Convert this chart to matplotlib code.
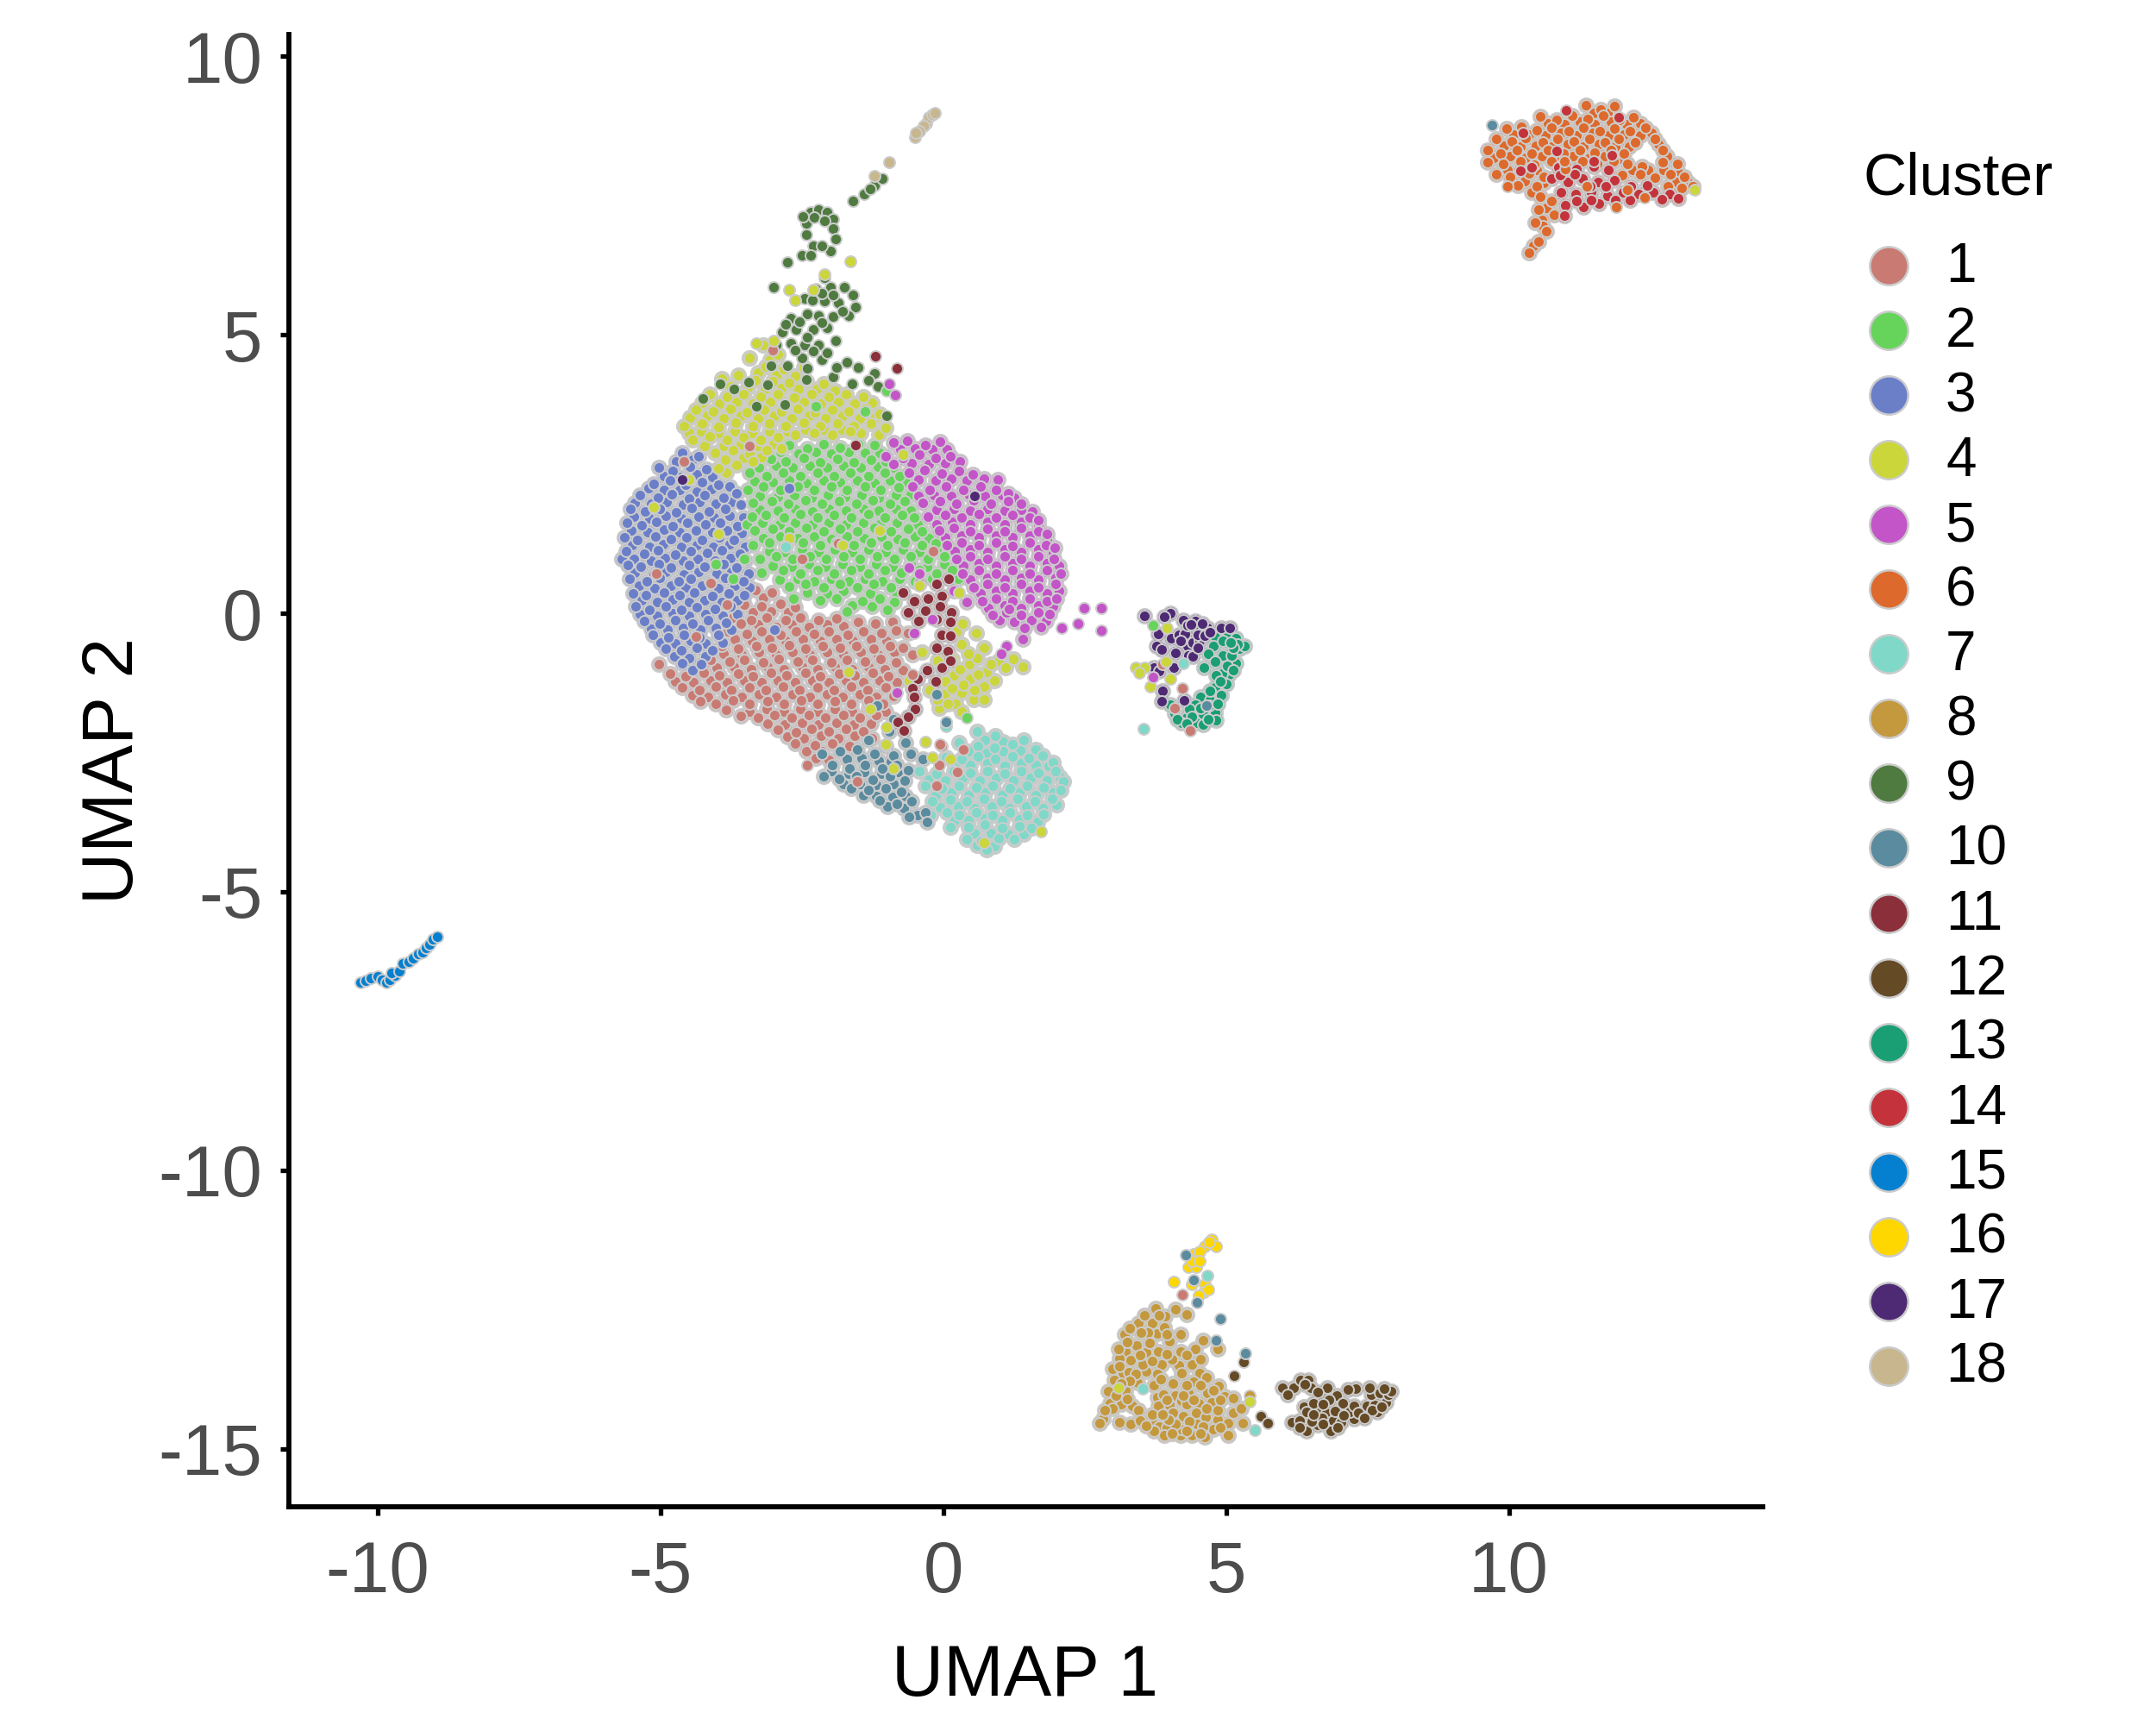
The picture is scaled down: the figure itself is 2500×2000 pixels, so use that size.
import matplotlib
matplotlib.use("Agg")
import matplotlib.pyplot as plt
from matplotlib.lines import Line2D

plt.rcParams['font.family'] = ['Liberation Sans', 'DejaVu Sans']

cluster_names = [str(i) for i in range(1, 19)]
cluster_colors = ['#C97B73', '#66D45A', '#6B7FC9', '#CBD63A', '#C355C8', '#DD6A2C', '#7FD8C8', '#C4983C', '#4F7A40',
                  '#5B8B9E', '#8B2F3A', '#654A26', '#1A9E74', '#C4333B', '#0580D0', '#FFD700', '#4E2A74', '#C8B78E']

core_3 = [(-4.62,2.88),(-4.33,2.82),(-5.03,2.62),(-4.78,2.55),(-4.48,2.64),(-4.19,2.58),(-5.12,2.33),(-4.83,2.38),(-4.56,2.31),(-4.27,2.36),(-3.98,2.3),
(-5.36,2.12),(-5.04,2.07),(-4.8,2.14),(-4.49,2.06),(-4.22,2.12),(-3.88,2.08),(-3.66,2.15),(-5.53,1.88),(-5.27,1.82),(-5.02,1.87),(-4.73,1.81),(-4.45,1.89),(-4.14,1.83),(-3.86,1.88),
(-5.6,1.62),(-5.33,1.58),(-5.07,1.64),(-4.78,1.57),(-4.52,1.63),(-4.2,1.59),(-3.94,1.62),(-3.64,1.57),(-5.64,1.36),(-5.41,1.31),(-5.09,1.38),(-4.82,1.33),(-4.54,1.37),(-4.26,1.31),(-3.96,1.36),(-3.7,1.32),
(-5.61,1.12),(-5.28,1.07),(-5.05,1.13),(-4.74,1.06),(-4.47,1.12),(-4.18,1.08),(-3.91,1.13),(-3.6,1.07),(-5.58,.87),(-5.35,.83),(-5.03,.88),(-4.81,.82),(-4.49,.87),(-4.22,.83),(-3.88,.88),(-3.66,.82),
(-5.54,.62),(-5.24,.57),(-5.01,.63),(-4.68,.58),(-4.46,.62),(-4.13,.57),(-3.86,.63),(-3.54,.58),(-5.49,.36),(-5.26,.32),(-4.93,.37),(-4.66,.33),(-4.41,.38),(-4.08,.31),(-3.79,.36),(-3.52,.32),
(-5.44,.12),(-5.19,.07),(-4.91,.13),(-4.63,.07),(-4.36,.11),(-4.04,.08),(-3.76,.13),(-5.28,-.14),(-5.02,-.18),(-4.74,-.12),(-4.44,-.18),(-4.16,-.13),(-3.84,-.17),
(-5.13,-.38),(-4.86,-.43),(-4.58,-.38),(-4.31,-.43),(-3.98,-.38),(-4.91,-.63),(-4.63,-.67),(-4.36,-.62),(-4.08,-.67),(-4.62,-.89),(-4.28,-.92)]
fill_3 = [(-4.72,2.73),(-4.44,2.76),(-4.93,2.47),(-4.66,2.44),(-4.36,2.49),(-4.09,2.44),(-5.21,2.24),(-4.94,2.21),(-4.66,2.22),(-4.36,2.19),(-4.1,2.23),(-3.78,2.27),(-5.46,1.99),(-5.16,1.96),(-4.89,2.0),(-4.6,1.95),(-4.31,2.0),(-4.02,1.96),(-3.74,2.0),
(-5.47,1.73),(-5.19,1.7),(-4.91,1.75),(-4.63,1.7),(-4.33,1.74),(-4.06,1.72),(-3.78,1.75),(-3.53,1.72),(-5.52,1.48),(-5.22,1.45),(-4.94,1.5),(-4.66,1.46),(-4.38,1.49),(-4.09,1.46),(-3.82,1.49),(-3.56,1.44),(-5.5,1.22),(-5.2,1.19),(-4.95,1.24),(-4.63,1.2),(-4.36,1.23),(-4.07,1.2),(-3.78,1.24),(-3.5,1.2),
(-5.68,.98),(-5.47,.97),(-5.17,.95),(-4.92,.99),(-4.6,.95),(-4.34,.98),(-4.03,.95),(-3.77,.99),(-3.5,.95),(-5.46,.73),(-5.12,.7),(-4.9,.75),(-4.58,.7),(-4.32,.74),(-4.0,.71),(-3.75,.75),(-3.45,.72),(-5.38,.49),(-5.11,.45),(-4.82,.49),(-4.55,.46),(-4.26,.5),(-3.97,.45),(-3.68,.49),(-3.42,.46),
(-5.33,.24),(-5.06,.2),(-4.78,.25),(-4.5,.2),(-4.22,.24),(-3.92,.2),(-3.64,.24),(-5.36,-.02),(-5.06,-.05),(-4.78,0),(-4.5,-.05),(-4.2,-.01),(-3.9,-.04),(-3.64,-.02),(-5.16,-.28),(-4.88,-.3),(-4.6,-.26),(-4.3,-.3),(-4.02,-.26),(-3.74,-.3),(-5.0,-.52),(-4.74,-.54),(-4.46,-.5),(-4.2,-.54),(-3.9,-.52),(-4.76,-.78),(-4.5,-.8),(-4.2,-.78),(-4.44,-1.02)]

core_1 = [(-3.32,.42),(-3.03,.37),(-3.52,.16),(-3.21,.12),(-2.88,.17),(-2.62,.11),(-3.71,-.08),(-3.39,-.13),(-3.12,-.07),(-2.79,-.12),(-2.52,-.08),(-2.21,-.13),(-1.88,-.09),
(-3.81,-.33),(-3.48,-.37),(-3.22,-.32),(-2.88,-.38),(-2.61,-.33),(-2.28,-.37),(-2.02,-.33),(-1.69,-.38),(-1.41,-.32),(-1.09,-.36),(-.83,-.31),
(-3.92,-.58),(-3.62,-.63),(-3.31,-.58),(-3.03,-.62),(-2.72,-.57),(-2.43,-.63),(-2.13,-.58),(-1.82,-.62),(-1.54,-.58),(-1.23,-.63),(-.94,-.58),(-.72,-.62),
(-4.12,-.83),(-3.78,-.87),(-3.52,-.83),(-3.18,-.88),(-2.91,-.82),(-2.58,-.87),(-2.31,-.83),(-1.98,-.88),(-1.71,-.83),(-1.38,-.87),(-1.11,-.82),(-.83,-.88),
(-5.03,-.92),(-4.83,-1.08),(-4.56,-1.13),(-4.24,-1.07),(-3.96,-1.12),(-3.63,-1.08),(-3.36,-1.13),(-3.04,-1.07),(-2.77,-1.12),(-2.44,-1.07),(-2.17,-1.13),(-1.84,-1.08),(-1.57,-1.12),(-1.24,-1.07),(-.97,-1.13),
(-4.61,-1.33),(-4.31,-1.38),(-4.02,-1.32),(-3.74,-1.37),(-3.42,-1.33),(-3.14,-1.38),(-2.83,-1.32),(-2.54,-1.37),(-2.22,-1.33),(-1.94,-1.38),(-1.63,-1.32),(-1.34,-1.37),(-1.02,-1.33),
(-4.29,-1.58),(-4.02,-1.62),(-3.71,-1.57),(-3.43,-1.63),(-3.11,-1.58),(-2.82,-1.62),(-2.51,-1.57),(-2.23,-1.63),(-1.92,-1.58),(-1.63,-1.62),(-1.32,-1.57),(-1.07,-1.62),
(-3.58,-1.84),(-3.27,-1.88),(-2.98,-1.83),(-2.68,-1.87),(-2.37,-1.83),(-2.08,-1.88),(-1.77,-1.83),(-1.48,-1.87),(-1.19,-1.83),(-2.92,-2.09),(-2.61,-2.13),(-2.33,-2.08),(-2.02,-2.12),(-1.72,-2.08),(-1.42,-2.12),
(-2.62,-2.33),(-2.27,-2.37),(-1.97,-2.33),(-1.66,-2.38),(-2.26,-2.6),(-2.03,-2.63),(-1.72,-2.6)]
fill_1 = [(-3.18,.28),(-3.36,.02),(-3.05,.03),(-2.74,.02),(-3.56,-.22),(-3.28,-.2),(-2.96,-.24),(-2.68,-.2),(-2.38,-.24),(-2.06,-.2),(-1.76,-.23),(-1.5,-.16),(-1.2,-.18),(-.9,-.16),(-3.68,-.47),(-3.38,-.5),(-3.08,-.46),(-2.78,-.5),(-2.48,-.46),(-2.18,-.5),(-1.88,-.46),(-1.6,-.5),(-1.28,-.46),(-1.0,-.5),(-.62,-.36),(-3.88,-.72),(-3.56,-.74),(-3.26,-.7),(-2.96,-.74),(-2.66,-.7),(-2.36,-.74),(-2.06,-.7),(-1.76,-.74),(-1.46,-.7),(-1.16,-.74),(-.86,-.7),(-.55,-.74),
(-4.3,-.96),(-4.0,-.98),(-3.7,-.96),(-3.4,-1.0),(-3.1,-.96),(-2.82,-1.0),(-2.5,-.96),(-2.22,-1.0),(-1.92,-.96),(-1.62,-1.0),(-1.32,-.96),(-1.04,-1.0),(-.72,-1.02),(-4.74,-1.22),(-4.42,-1.24),(-4.12,-1.2),(-3.82,-1.24),(-3.52,-1.2),(-3.22,-1.24),(-2.92,-1.2),(-2.62,-1.24),(-2.32,-1.2),(-2.02,-1.24),(-1.72,-1.2),(-1.42,-1.24),(-1.12,-1.2),(-.82,-1.24),
(-4.44,-1.47),(-4.16,-1.5),(-3.86,-1.46),(-3.56,-1.5),(-3.26,-1.46),(-2.96,-1.5),(-2.66,-1.46),(-2.36,-1.5),(-2.06,-1.46),(-1.78,-1.5),(-1.48,-1.46),(-1.18,-1.5),(-.88,-1.48),(-3.84,-1.74),(-3.42,-1.76),(-3.12,-1.72),(-2.82,-1.76),(-2.52,-1.72),(-2.22,-1.76),(-1.92,-1.72),(-1.62,-1.76),(-1.32,-1.72),(-1.02,-1.76),(-3.1,-1.98),(-2.8,-2.0),(-2.5,-1.96),(-2.2,-2.0),(-1.88,-1.96),(-1.58,-2.0),(-1.28,-1.98),(-2.76,-2.22),(-2.46,-2.24),(-2.16,-2.2),(-1.86,-2.24),(-1.56,-2.2),(-1.26,-2.24),(-2.42,-2.48),(-2.14,-2.48),(-1.82,-2.46),(-1.98,-2.78)]

core_2 = [(-2.73,3.02),(-2.41,2.96),(-2.12,3.03),(-1.83,2.97),(-1.51,3.04),(-1.22,3.02),(-3.05,2.77),(-2.78,2.72),(-2.46,2.78),(-2.18,2.71),(-1.87,2.77),(-1.58,2.71),(-1.27,2.76),(-1.02,2.72),
(-3.43,2.52),(-3.12,2.47),(-2.83,2.53),(-2.53,2.46),(-2.23,2.52),(-1.94,2.47),(-1.64,2.53),(-1.33,2.46),(-1.04,2.52),(-.78,2.46),(-3.46,2.22),(-3.18,2.27),(-2.88,2.21),(-2.58,2.27),(-2.29,2.21),(-1.98,2.27),(-1.7,2.21),(-1.39,2.27),(-1.11,2.21),(-.79,2.26),
(-3.36,1.98),(-3.03,2.02),(-2.74,1.97),(-2.44,2.03),(-2.14,1.97),(-1.84,2.02),(-1.54,1.97),(-1.24,2.03),(-.94,1.97),(-.68,2.01),(-3.38,1.73),(-3.13,1.77),(-2.82,1.72),(-2.53,1.78),(-2.22,1.72),(-1.93,1.77),(-1.63,1.72),(-1.33,1.78),(-1.03,1.72),(-.73,1.77),(-.52,1.72),
(-3.33,1.48),(-3.01,1.52),(-2.72,1.47),(-2.42,1.53),(-2.12,1.47),(-1.83,1.52),(-1.52,1.47),(-1.22,1.53),(-.93,1.47),(-.62,1.52),(-.38,1.47),(-3.36,1.23),(-3.08,1.27),(-2.78,1.22),(-2.48,1.27),(-2.18,1.22),(-1.88,1.27),(-1.58,1.22),(-1.28,1.27),(-.98,1.22),(-.69,1.27),(-.38,1.22),(-.14,1.26),
(-3.24,.98),(-2.96,1.02),(-2.66,.97),(-2.36,1.03),(-2.07,.97),(-1.76,1.02),(-1.47,.97),(-1.17,1.03),(-.87,.97),(-.58,1.02),(-.27,.97),(.02,1.02),(-3.22,.73),(-2.83,.77),(-2.52,.72),(-2.23,.77),(-1.93,.72),(-1.63,.78),(-1.33,.72),(-1.03,.77),(-.74,.73),(-.42,.78),(-.12,.72),(.16,.77),
(-2.72,.48),(-2.43,.52),(-2.12,.47),(-1.82,.53),(-1.52,.47),(-1.23,.52),(-.92,.47),(-2.65,.26),(-2.18,.24),(-1.88,.27),(-1.43,.22),(-1.12,.26),(-1.7,.03),(-.98,.06)]
fill_2 = [(-2.88,2.9),(-2.56,2.87),(-2.26,2.9),(-1.98,2.86),(-1.68,2.9),(-1.38,2.88),(-1.12,2.88),(-3.26,2.62),(-2.96,2.65),(-2.66,2.61),(-2.36,2.65),(-2.06,2.62),(-1.76,2.65),(-1.46,2.61),(-1.16,2.64),(-.88,2.62),(-3.33,2.37),(-3.02,2.35),(-2.72,2.38),(-2.42,2.34),(-2.12,2.38),(-1.82,2.35),(-1.52,2.38),(-1.22,2.34),(-.94,2.38),(-.66,2.35),
(-3.24,2.11),(-2.93,2.09),(-2.63,2.12),(-2.33,2.08),(-2.04,2.12),(-1.74,2.09),(-1.44,2.12),(-1.14,2.08),(-.84,2.12),(-.58,2.14),(-3.24,1.86),(-2.92,1.84),(-2.62,1.87),(-2.32,1.83),(-2.02,1.87),(-1.72,1.84),(-1.42,1.87),(-1.14,1.84),(-.84,1.87),(-.58,1.85),(-3.48,1.6),(-3.2,1.63),(-2.9,1.6),(-2.62,1.63),(-2.32,1.59),(-2.02,1.63),(-1.72,1.6),(-1.42,1.63),(-1.12,1.59),(-.82,1.63),(-.46,1.6),
(-3.18,1.35),(-2.88,1.38),(-2.58,1.35),(-2.28,1.38),(-1.98,1.34),(-1.7,1.38),(-1.4,1.35),(-1.1,1.38),(-.8,1.34),(-.5,1.38),(-.26,1.35),(-3.08,1.12),(-2.8,1.1),(-2.5,1.14),(-2.2,1.1),(-1.92,1.14),(-1.62,1.1),(-1.32,1.14),(-1.02,1.1),(-.72,1.14),(-.42,1.1),(-.12,1.12),(.12,1.04),(-3.02,.86),(-2.68,.84),(-2.38,.88),(-2.08,.84),(-1.78,.88),(-1.48,.84),(-1.18,.88),(-.9,.84),(-.58,.88),(-.28,.84),(.02,.88),(.22,.92),
(-2.9,.6),(-2.58,.62),(-2.28,.58),(-1.98,.62),(-1.68,.58),(-1.38,.62),(-1.08,.58),(-.78,.62),(-.5,.58),(-.2,.62),(.26,.62),(-2.4,.38),(-2.06,.36),(-1.76,.4),(-1.3,.36),(-.82,.34),(-1.62,.14),(-1.26,.12),(-.86,.2)]

core_4 = [(-3.18,4.82),(-2.92,4.65),(-3.42,4.58),(-3.14,4.43),(-2.82,4.38),(-2.47,4.42),(-3.92,4.21),(-3.62,4.27),(-3.32,4.18),(-3.02,4.16),(-2.72,4.14),(-2.42,4.17),(-2.12,4.12),
(-4.13,3.93),(-3.83,3.88),(-3.53,3.94),(-3.23,3.89),(-2.93,3.93),(-2.63,3.87),(-2.33,3.94),(-2.03,3.88),(-1.72,3.93),(-1.42,3.88),(-4.38,3.66),(-4.07,3.62),(-3.77,3.67),(-3.47,3.61),(-3.17,3.66),(-2.87,3.62),(-2.57,3.67),(-2.27,3.61),(-1.97,3.66),(-1.67,3.62),(-1.38,3.67),(-1.13,3.58),
(-4.58,3.36),(-4.27,3.41),(-3.98,3.35),(-3.67,3.42),(-3.37,3.36),(-3.08,3.41),(-2.78,3.36),(-2.47,3.42),(-2.18,3.36),(-1.87,3.41),(-1.58,3.36),(-1.27,3.41),(-1.02,3.33),(-4.43,3.12),(-4.13,3.17),(-3.83,3.11),(-3.53,3.16),(-3.23,3.11),(-2.93,3.16),(-2.62,3.2),(-2.28,3.24),(-1.96,3.21),(-1.64,3.26),
(-4.03,2.88),(-3.72,2.92),(-3.42,2.87),(-3.12,2.93),(-2.86,2.96),(-3.97,2.6),(-3.66,2.66),(-3.36,2.72)]
fill_4 = [(-3.06,4.55),(-3.28,4.32),(-2.96,4.28),(-2.62,4.26),(-3.76,4.08),(-3.46,4.05),(-3.16,4.03),(-2.86,4.04),(-2.56,4.02),(-2.24,4.03),(-1.92,4.0),(-4.26,3.78),(-3.96,3.76),(-3.66,3.8),(-3.36,3.76),(-3.06,3.8),(-2.76,3.76),(-2.46,3.8),(-2.16,3.76),(-1.86,3.8),(-1.56,3.76),(-1.26,3.78),(-4.48,3.52),(-4.18,3.54),(-3.88,3.5),(-3.58,3.54),(-3.28,3.5),(-2.98,3.54),(-2.68,3.5),(-2.38,3.54),(-2.08,3.5),(-1.78,3.54),(-1.48,3.5),(-1.2,3.52),(-4.5,3.24),(-4.28,3.27),(-3.98,3.23),(-3.68,3.27),(-3.38,3.23),(-3.08,3.27),(-2.76,3.26),(-2.44,3.3),(-2.12,3.3),(-1.8,3.3),(-1.46,3.24),(-1.14,3.2),(-4.22,3.0),(-3.88,3.0),(-3.58,3.03),(-3.28,3.0),(-3.0,3.03),(-3.86,2.76),(-3.54,2.78),(-3.22,2.8),(-3.84,2.52)]

core_5 = [(-.88,3.06),(-.63,3.1),(-.32,3.02),(-.06,3.08),(-1.02,2.82),(-.72,2.78),(-.42,2.85),(-.14,2.78),(.12,2.82),(-.61,2.53),(-.33,2.57),(-.02,2.51),(.28,2.56),(.52,2.5),
(-.55,2.27),(-.24,2.22),(.05,2.28),(.36,2.22),(.66,2.27),(.93,2.21),(1.14,2.16),(-.36,1.98),(-.05,2.02),(.24,1.97),(.54,2.03),(.84,1.97),(1.14,2.02),(1.37,1.96),
(-.27,1.73),(.04,1.77),(.33,1.72),(.63,1.78),(.93,1.72),(1.23,1.77),(1.53,1.72),(1.68,1.68),(-.08,1.48),(.18,1.53),(.48,1.47),(.78,1.52),(1.08,1.47),(1.38,1.53),(1.68,1.47),(1.84,1.42),
(.06,1.22),(.33,1.27),(.63,1.22),(.93,1.27),(1.23,1.21),(1.53,1.27),(1.82,1.22),(1.97,1.17),(.24,.97),(.48,1.03),(.78,.97),(1.08,1.02),(1.38,.97),(1.68,1.02),(1.96,.97),(.34,.72),(.63,.77),(.93,.72),(1.23,.78),(1.53,.72),(1.83,.77),(2.08,.72),
(.53,.47),(.78,.52),(1.08,.47),(1.38,.53),(1.68,.47),(1.98,.52),(.69,.22),(.93,.27),(1.23,.21),(1.53,.27),(1.83,.22),(2.0,.26),(.88,-.03),(1.12,.02),(1.38,-.03),(1.68,.02),(1.88,-.02),(1.44,-.27),(1.72,-.24),(1.4,-.46)]
fill_5 = [(-.76,2.94),(-.5,2.96),(-.2,2.94),(.06,2.94),(-.88,2.68),(-.56,2.7),(-.26,2.68),(.04,2.7),(.3,2.72),(-.44,2.4),(-.14,2.38),(.14,2.42),(.42,2.38),(.72,2.42),(.96,2.4),(-.44,2.1),(-.16,2.12),(.14,2.1),(.44,2.14),(.74,2.1),(1.04,2.12),(1.26,2.08),(-.12,1.86),(.18,1.88),(.48,1.84),(.78,1.88),(1.08,1.84),(1.38,1.86),(1.58,1.82),(-.12,1.6),(.16,1.64),(.48,1.6),(.78,1.64),(1.08,1.6),(1.38,1.64),(1.68,1.6),(.04,1.36),(.33,1.4),(.63,1.36),(.93,1.4),(1.23,1.36),(1.53,1.4),(1.83,1.34),(.2,1.12),(.48,1.14),(.78,1.1),(1.08,1.14),(1.38,1.1),(1.68,1.14),(1.94,1.08),
(.36,.86),(.63,.9),(.93,.86),(1.23,.9),(1.53,.86),(1.83,.9),(2.04,.86),(.48,.6),(.78,.64),(1.08,.6),(1.38,.64),(1.68,.6),(1.98,.64),(.66,.36),(.93,.4),(1.23,.35),(1.53,.4),(1.83,.35),(2.04,.4),(.8,.1),(1.08,.14),(1.38,.1),(1.68,.14),(1.94,.12),(1.0,-.12),(1.26,-.15),(1.56,-.12),(1.82,-.14),(.18,.4),(.42,.2)]

core_11 = [(-.71,.38),(-.42,.55),(-.12,.52),(.1,.62),(-.52,.22),(-.27,.27),(-.03,.31),(-.62,.02),(-.32,.05),(-.06,.12),(.14,.02),(-.44,-.14),(-.12,-.1),(.12,-.16),(-.03,-.38),(.12,-.4),(-.12,-.62),(.08,-.68),(-.29,-1.02),(-.02,-.98),(.12,-.85),(-.45,-1.18),(-.14,-1.22),(-.55,-1.35),(-.52,-1.5),(-.5,-1.72),(-.62,-1.85),(-.8,-1.95),(-.7,-2.1)]

core_4b = [(-.38,-.7),(-.1,-.85),(.24,-.32),(.32,-.55),(.16,-.82),(.46,-.92),(.18,-1.12),(.48,-1.18),(.76,-1.05),(.98,-.85),(1.24,-.82),(.72,-1.32),(.33,-1.42),(.02,-1.45),(-.24,-1.38),(.22,-1.62),(.54,-1.55),(.9,-1.2),(.72,-1.55),(.58,-.35),(.72,-.62),(-.08,-1.7),(.04,-1.22),(.32,-1.76),(.3,-1.0),(.6,-.8),(.84,-.92),(1.1,-.98),(.62,-1.1),(.36,-1.28),(.56,-1.38),(.16,-1.34),(-.1,-1.55),(.08,-1.62),(.44,-.72),(.34,-.18),(-.6,-1.2),(1.4,-.96)]

core_10 = [(-1.17,-1.66),(-.88,-1.9),(-.96,-2.12),(-.66,-2.32),(-1.32,-2.28),(-1.02,-2.38),(-2.15,-2.52),(-1.82,-2.48),(-1.52,-2.44),(-1.22,-2.52),(-.88,-2.56),(-.58,-2.52),(-.36,-2.62),(-1.96,-2.72),(-1.66,-2.78),(-1.38,-2.72),(-1.08,-2.78),(-.82,-2.72),(-.62,-2.82),
(-2.12,-2.92),(-1.84,-2.97),(-1.54,-2.93),(-1.24,-2.98),(-.94,-2.92),(-.68,-3.0),(-1.63,-3.14),(-1.33,-3.18),(-1.02,-3.14),(-.74,-3.2),(-1.12,-3.36),(-.82,-3.42),(-.56,-3.37),(-.6,-3.65),(-.32,-3.58),(-.28,-3.74)]
fill_10 = [(-1.7,-2.62),(-1.44,-2.6),(-1.14,-2.64),(-.92,-2.66),(-1.98,-2.84),(-1.68,-2.88),(-1.4,-2.85),(-1.1,-2.88),(-.8,-2.85),(-1.76,-3.06),(-1.48,-3.06),(-1.18,-3.08),(-.88,-3.06),(-1.42,-3.26),(-1.18,-3.28),(-.9,-3.3),(-.66,-3.28),(-.98,-3.46),(-.7,-3.5),(-.45,-3.62)]

core_7 = [(.6,-2.12),(.92,-2.2),(.28,-2.32),(.62,-2.38),(.9,-2.42),(1.22,-2.36),(1.42,-2.28),(.05,-2.58),(.32,-2.62),(.62,-2.57),(.92,-2.62),(1.22,-2.57),(1.52,-2.6),(1.76,-2.55),(1.94,-2.68),
(-.42,-2.84),(-.12,-2.88),(.18,-2.83),(.48,-2.87),(.78,-2.83),(1.08,-2.88),(1.38,-2.83),(1.68,-2.87),(1.98,-2.83),(-.32,-3.1),(-.03,-3.14),(.28,-3.09),(.58,-3.13),(.88,-3.09),(1.18,-3.14),(1.48,-3.09),(1.78,-3.13),(2.12,-3.02),(2.08,-3.18),
(-.2,-3.38),(.12,-3.34),(.42,-3.38),(.72,-3.33),(1.02,-3.38),(1.32,-3.33),(1.62,-3.38),(1.92,-3.33),(-.22,-3.62),(.06,-3.58),(.28,-3.63),(.58,-3.58),(.88,-3.63),(1.18,-3.58),(1.48,-3.63),(1.78,-3.6),
(.12,-3.84),(.44,-3.84),(.74,-3.8),(1.04,-3.85),(1.34,-3.82),(1.56,-3.86),(.42,-4.06),(.68,-4.08),(.98,-4.04),(1.26,-4.06),(.76,-4.24)]
fill_7 = [(.74,-2.28),(1.06,-2.3),(.44,-2.48),(.76,-2.5),(1.06,-2.48),(1.36,-2.46),(1.64,-2.44),(.2,-2.72),(.48,-2.72),(.78,-2.7),(1.08,-2.74),(1.38,-2.7),(1.64,-2.72),(1.86,-2.74),(-.26,-2.98),(.04,-3.0),(.34,-2.96),(.64,-3.0),(.94,-2.96),(1.24,-3.0),(1.54,-2.96),(1.84,-3.0),(2.06,-2.94),(-.14,-3.26),(.14,-3.22),(.44,-3.26),(.74,-3.22),(1.04,-3.26),(1.34,-3.22),(1.64,-3.26),(1.94,-3.22),(-.06,-3.48),(.26,-3.46),(.56,-3.5),(.86,-3.46),(1.16,-3.5),(1.46,-3.46),(1.76,-3.5),(2.0,-3.44),(.2,-3.72),(.44,-3.72),(.74,-3.68),(1.04,-3.72),(1.34,-3.7),(1.66,-3.74),(.56,-3.94),(.84,-3.94),(1.14,-3.96),(1.42,-3.96),(.6,-4.16),(.9,-4.18)]

core_6 = [(11.36,9.12),(11.62,9.04),(11.86,9.1),(10.56,8.92),(10.85,8.86),(11.12,8.94),(11.4,8.88),(11.67,8.93),(11.96,8.86),(12.2,8.9),(9.96,8.7),(10.22,8.74),(10.5,8.67),(10.76,8.72),(11.06,8.66),(11.32,8.72),(11.61,8.66),(11.86,8.71),(12.14,8.66),(12.42,8.72),
(9.78,8.52),(10.06,8.47),(10.3,8.53),(10.6,8.46),(10.86,8.52),(11.15,8.47),(11.42,8.52),(11.7,8.46),(11.95,8.51),(12.24,8.46),(12.58,8.52),(9.62,8.31),(9.86,8.26),(10.15,8.32),(10.4,8.26),(10.7,8.32),(10.96,8.26),(11.25,8.32),(11.52,8.27),(11.8,8.31),(12.04,8.26),(12.72,8.31),
(9.62,8.1),(9.9,8.06),(10.2,8.11),(10.45,8.05),(10.75,8.11),(11.02,8.06),(11.3,8.12),(11.56,8.06),(11.85,8.11),(12.1,8.06),(12.35,8.02),(12.72,8.1),(12.98,8.06),(9.78,7.88),(10.02,7.84),(10.36,7.9),(10.62,7.84),(12.0,7.86),(12.32,7.88),(12.58,7.82),(12.86,7.88),(13.1,7.84),(10.16,7.68),(10.5,7.66),(12.82,7.66),(13.05,7.63),(13.26,7.66),(10.56,7.48),(10.76,7.4),(10.52,7.24),(10.8,7.16),(10.46,7.02),(10.66,6.86),(10.52,6.68),(10.36,6.48)]

core_14 = [(10.88,8.0),(11.2,7.98),(11.5,8.02),(11.76,7.96),(10.76,7.8),(11.04,7.74),(11.3,7.8),(11.58,7.74),(11.86,7.78),(10.92,7.56),(11.18,7.52),(11.46,7.56),(11.74,7.5),(12.02,7.55),(12.3,7.52),(12.56,7.56),(12.84,7.52),(11.0,7.32),(11.32,7.3),(11.6,7.36),(10.98,7.14),(10.9,7.86),(11.16,7.88),(11.44,7.66),(11.72,7.66),(12.16,7.66),(12.44,7.68),(12.7,7.44),(13.0,7.45),(12.14,7.42),(11.88,7.42),(11.46,7.42),(11.2,7.4),(10.4,8.0),(10.2,7.95)]
fill_6 = [(11.5,8.98),(11.74,8.98),(10.7,8.8),(10.98,8.78),(11.26,8.82),(11.52,8.78),(11.8,8.82),(12.08,8.78),(12.32,8.8),(10.08,8.6),(10.36,8.6),(10.64,8.58),(10.92,8.62),(11.2,8.58),(11.48,8.62),(11.76,8.58),(12.04,8.6),(12.32,8.58),(12.52,8.62),(9.92,8.4),(10.2,8.38),(10.48,8.4),(10.76,8.38),(11.04,8.42),(11.32,8.38),(11.6,8.42),(11.88,8.38),(12.12,8.38),(9.74,8.18),(10.02,8.2),(10.3,8.18),(10.58,8.2),(10.86,8.18),(11.14,8.2),(11.42,8.18),(11.7,8.2),(11.98,8.16),(12.8,8.2),(9.98,7.96),(10.22,7.9),(10.5,7.96),(12.18,7.96),(12.46,7.96),(12.74,7.96),(12.98,7.94),(10.28,7.76),(10.62,7.72),(12.96,7.74),(13.18,7.72),(10.4,7.56),(10.66,7.28),(10.58,7.06),(10.6,6.95),(10.44,6.6),(12.64,8.42)]

points_8 = [(3.75,-12.48),(4.11,-12.5),(4.31,-12.58),(3.45,-12.74),(3.7,-12.74),(3.92,-12.62),(3.2,-12.94),(3.78,-12.93),(4.2,-12.94),(4.0,-13.07),(4.6,-13.05),(4.86,-13.2),(4.46,-13.2),(3.22,-13.25),(3.42,-13.15),(3.58,-13.27),(3.8,-13.25),(4.19,-13.25),(3.12,-13.38),(3.32,-13.41),(3.86,-13.48),(4.16,-13.5),(4.39,-13.48),(3.0,-13.56),(3.18,-13.64),(3.58,-13.61),(3.78,-13.66),(4.21,-13.64),(4.54,-13.64),(3.02,-13.77),(3.44,-13.81),(4.06,-13.82),(4.42,-13.79),(4.65,-13.72),(2.92,-13.97),(3.22,-13.95),(4.34,-14.0),(4.67,-13.99),(4.87,-13.87),(3.78,-14.08),(3.89,-14.02),(4.1,-14.04),(4.97,-14.06),(5.12,-14.09),(2.94,-14.18),(3.14,-14.19),(3.35,-14.23),(3.8,-14.23),(4.0,-14.22),(4.21,-14.13),(4.52,-14.18),(4.75,-14.16),(3.0,-14.28),(3.45,-14.31),(4.06,-14.35),(4.47,-14.36),(4.24,-14.41),(4.64,-14.43),(5.12,-14.35),(5.26,-14.28),(2.82,-14.46),(2.76,-14.54),(3.11,-14.52),(3.31,-14.55),(3.48,-14.49),(3.73,-14.55),(3.81,-14.6),(3.95,-14.62),(4.19,-14.75),(4.39,-14.75),(4.62,-14.79),(4.86,-14.48),(5.03,-14.54),(5.03,-14.75),(5.3,-14.54),(4.49,-14.55),(4.77,-14.65),(3.91,-14.75),(4.2,-14.65),(3.28,-13.62),(3.1,-13.2),(3.62,-12.92),(3.52,-13.48),(3.4,-13.65),(3.65,-13.1),(3.9,-12.82),(2.86,-14.3),(4.3,-14.2),(4.6,-14.6),(4.1,-14.55),(3.98,-14.48),(4.35,-14.5),(4.85,-14.3),(4.05,-13.4),
(3.55,-12.6),(3.3,-12.84),(3.5,-12.92),(3.82,-12.6),(3.95,-12.95),(3.25,-13.08),(3.48,-13.32),(3.7,-13.42),(3.95,-13.3),(3.12,-13.52),(3.3,-13.78),(3.15,-13.82),(3.05,-14.05),(3.25,-14.1),(3.72,-13.85),(3.85,-13.75),(4.3,-13.32),(4.55,-13.4),(4.3,-13.85),(4.55,-13.85),(4.78,-13.95),(4.25,-14.05),(3.95,-14.12),(4.42,-14.12),(4.65,-14.28),(4.9,-14.12),(3.7,-14.38),(3.88,-14.38),(4.3,-14.68),(4.05,-14.72),(3.72,-14.68),(4.55,-14.72),(4.9,-14.62),(3.58,-14.58)]
points_12 = [(6.0,-13.9),(6.2,-13.91),(6.09,-14.03),(6.32,-13.77),(6.45,-13.77),(6.5,-13.9),(6.79,-13.91),(6.96,-14.05),(7.06,-14.18),(6.38,-14.24),(6.6,-14.28),(6.78,-14.35),(6.45,-14.44),(6.17,-14.52),(6.43,-14.67),(6.62,-14.57),(6.9,-14.49),(6.85,-14.67),(7.26,-14.46),(7.03,-14.52),(7.44,-14.31),(7.49,-14.23),(7.63,-14.22),(7.82,-14.16),(7.57,-14.02),(7.72,-14.0),(7.87,-14.03),(7.54,-13.9),(7.3,-13.92),(7.16,-13.93),(6.55,-14.18),(6.3,-14.49),(6.7,-14.44),(7.19,-14.34),(7.67,-14.34),(7.92,-13.97),(7.26,-14.23),(6.4,-13.84),(6.62,-13.98),(6.82,-14.12),(6.72,-14.2),(6.42,-14.34),(6.52,-14.5),(6.72,-14.56),(6.92,-14.32),(7.08,-14.4),(7.34,-14.36),(7.58,-14.3),(7.75,-14.25),(7.8,-13.92),(7.45,-14.44),(6.98,-14.62),(6.3,-14.62),(6.55,-14.38)]
points_12b = [(5.31,-13.44),(5.15,-13.69),(5.61,-14.42),(5.73,-14.54)]
points_8b = [(5.42,-14.05)]
points_13 = [(4.8,-.42),(5.04,-.39),(5.23,-.63),(5.33,-.59),(5.18,-.45),(4.77,-.59),(4.68,-.73),(4.95,-.76),(4.8,-.87),(4.61,-.97),(5.18,-.89),(5.1,-.76),(5.05,-1.1),(4.93,-1.08),(4.82,-1.12),(5.0,-1.27),(4.8,-1.33),(4.91,-1.47),(4.66,-1.47),(4.55,-1.5),(4.81,-1.78),(4.59,-1.81),(4.31,-1.87),(4.09,-1.79),(4.47,-1.97),(4.21,-1.97),(4.82,-1.92),(4.59,-2.0),(4.01,-1.64),(4.46,-1.64),(4.72,-1.56),(5.2,-.55),(5.12,-.62),(4.7,-1.65),(4.35,-1.72),(4.95,-.5),(5.08,-.52),(5.02,-.95),(4.9,-1.22),(5.12,-1.02),(4.72,-1.4),(4.85,-1.62),(4.4,-1.86),(4.68,-1.9),(4.14,-1.9),(4.3,-1.98),(4.55,-1.7)]
points_17 = [(3.56,-.04),(4.01,.0),(3.9,-.06),(3.8,-.37),(3.77,-.58),(3.86,-.65),(4.03,-.45),(4.1,-.71),(4.17,-.39),(4.25,-.13),(4.28,-.37),(4.32,-.22),(4.32,-.58),(4.34,-.76),(4.41,-.77),(4.41,-.53),(4.46,-.14),(4.54,-.29),(4.53,-.49),(4.67,-.27),(4.92,-.27),(5.07,-.27),(3.73,-.97),(3.82,-1.03),(4.08,-.98),(3.87,-1.39),(3.86,-1.58),(4.26,-1.56),(4.38,-.2),(4.5,-.38),(4.62,-.4),(4.2,-.5),(4.5,-.62),(4.72,-.34),(4.58,-.18)]
points_9 = [(-2.35,7.2),(-2.2,7.25),(-2.05,7.2),(-1.95,7.08),(-2.42,7.0),(-1.95,6.9),(-2.42,6.8),(-1.9,6.72),(-2.3,6.6),(-2.0,6.5),(-2.5,6.42),(-2.75,6.3),(-3.0,5.85),(-1.4,7.52),(-1.22,7.68),(-1.3,7.62),(-1.08,7.8),(-1.6,7.4),(-2.28,7.1),(-2.48,7.12),(-2.1,7.05),(-2.15,6.6),(-2.35,6.42),
(-2.1,6.02),(-2.0,5.85),(-1.75,5.85),(-1.6,5.72),(-2.25,5.82),(-2.45,5.65),(-2.1,5.6),(-1.85,5.58),(-1.55,5.5),(-1.68,5.35),(-2.7,5.3),(-2.4,5.38),(-2.2,5.35),(-1.95,5.32),(-2.85,5.05),(-2.6,5.1),(-2.3,5.1),(-2.05,5.12),(-1.9,4.9),(-2.95,4.82),(-2.7,4.85),(-2.45,4.82),(-2.2,4.82),(-2.5,4.58),(-2.15,4.55),(-2.75,4.45),(-1.7,4.5),(-1.5,4.42),(-1.22,4.3),(-3.05,4.45),(-3.45,4.15),(-3.7,4.02),(-3.95,4.12),(-4.25,3.85),(-3.1,4.1),(-2.42,4.2),(-1.95,4.25),(-1.62,4.12),(-1.32,4.18),(-1.15,4.08),(-1.0,3.55),(-2.8,3.75),(-3.3,3.72),(-2.32,5.62),(-2.15,5.74),(-1.95,5.72),(-1.78,5.42),(-2.55,5.24),(-2.15,5.22),(-2.78,5.18),(-2.4,4.95),(-2.62,4.72),(-2.3,4.7),(-2.05,4.68),(-2.4,4.4),(-1.88,4.42)]
points_18 = [(-.3,8.8),(-.25,8.9),(-.2,8.95),(-.15,8.98),(-.35,8.75),(-.42,8.65),(-.5,8.55),(-.48,8.62),(-.95,8.1),(-1.22,7.85)]
points_15 = [(-10.3,-6.62),(-10.22,-6.6),(-10.12,-6.55),(-10.0,-6.52),(-9.92,-6.58),(-9.85,-6.62),(-9.78,-6.58),(-9.7,-6.5),(-9.75,-6.45),(-9.62,-6.42),(-9.55,-6.28),(-9.45,-6.25),(-9.38,-6.2),(-9.28,-6.12),(-9.2,-6.08),(-9.15,-6.0),(-9.08,-5.95),(-9.02,-5.85),(-8.95,-5.8)]
points_16 = [(4.75,-11.24),(4.62,-11.37),(4.82,-11.37),(4.42,-11.51),(4.54,-11.45),(4.33,-11.73),(4.47,-11.73),(4.4,-11.62),(4.54,-11.63),(4.07,-12.0),(4.39,-12.04),(4.62,-12.04),(4.61,-12.19),(4.52,-12.25),(4.69,-12.14),(4.7,-11.28)]

stray_1 = [(3.87,-.91),(4.23,-1.35),(4.09,-1.71),(4.37,-2.1),(4.23,-12.23),(-3.42,3.0),(-4.58,2.72),(-3.02,4.72),(-5.08,.72),(-4.12,.55),(-3.58,-.18),(-4.38,-.42),(-3.82,.15),(-.18,1.12),(-2.5,.98),(-1.85,1.25),(-.55,-1.1),(-.02,-2.38),(.25,-2.85),(-.08,-2.72),(-.12,-3.1),(-1.52,-3.02),(-2.4,-2.72),(.35,-2.45),(-.05,-2.35)]
stray_2 = [(3.71,-.22),(.42,-1.88),(-1.38,3.62),(-2.25,3.72),(-1.0,4.0),(-4.02,.88),(-3.72,.62),(-3.52,.98)]
stray_3 = [(-2.98,-.3),(-3.58,1.95),(-2.72,2.25)]
stray_4 = [(3.96,-.27),(3.4,-.97),(3.55,-.97),(3.46,-1.07),(4.02,-1.17),(3.66,-1.32),(3.94,-.86),(-5.12,1.9),(-4.5,2.4),(-3.98,1.42),(-2.72,1.35),(-1.78,1.22),(-1.12,1.48),(-.42,.5),(.28,.38),(-1.3,-1.72),(-1.0,-2.05),(-1.68,-1.05),(-1.02,-2.35),(.12,-2.62),(-.32,-2.3),(-.88,-2.78),(-.2,-2.58),(1.72,-3.92),(.72,-4.12),(-.72,2.85),(-2.3,5.8),(-2.62,5.62),(-1.65,6.32),(-3.0,4.9),(-3.3,4.85),(-2.1,6.08),(-2.72,5.8),(13.28,7.6),(5.42,-14.15),(3.1,-13.9)]
stray_5 = [(2.49,.1),(2.8,.1),(2.38,-.19),(2.79,-.31),(2.1,-.27),(3.71,-1.15),(-.95,4.12),(-.85,3.92),(-.6,.82),(-.82,-1.42),(-.2,-.1),(-.42,.72),(-.52,-.35),(1.16,.08),(1.12,-.58),(1.02,-.72)]
stray_7 = [(4.24,-.89),(3.54,-2.08),(4.67,-11.89),(3.53,-13.92),(5.51,-14.66),(-2.78,1.2),(.05,-2.02)]
stray_10 = [(4.65,-1.66),(4.29,-11.52),(4.43,-11.97),(4.49,-12.37),(4.9,-12.67),(4.82,-13.05),(5.34,-13.28),(9.7,8.76),(-.12,-1.45),(.05,-1.95)]
stray_6 = [(11.0,7.98),(11.38,7.66),(12.1,7.6),(12.4,7.46),(11.9,7.3),(10.98,8.12),(9.98,7.66)]
stray_11 = [(-1.2,4.62),(-.82,4.4),(-1.55,3.02)]
stray_14 = [(10.25,8.62),(10.85,8.3),(11.5,8.12),(11.82,8.22),(11.95,8.9),(11.02,9.02)]
stray_17 = [(-4.62,2.4),(.55,2.1)]

# drawn back to front; the dense groups also get a soft backing so no white shows between points
dense = [('1', fill_1), ('1', core_1), ('3', fill_3), ('3', core_3), ('2', fill_2), ('2', core_2), ('4', fill_4), ('4', core_4), ('4', core_4b),
         ('5', fill_5), ('5', core_5), ('7', fill_7), ('7', core_7), ('10', fill_10), ('10', core_10), ('11', core_11),
         ('6', fill_6), ('6', core_6), ('14', core_14), ('8', points_8), ('12', points_12), ('13', points_13), ('17', points_17)]
sparse = [('8', points_8b), ('12', points_12b), ('16', points_16), ('9', points_9), ('18', points_18), ('15', points_15),
          ('1', stray_1), ('2', stray_2), ('3', stray_3), ('4', stray_4), ('5', stray_5), ('7', stray_7), ('10', stray_10), ('6', stray_6), ('11', stray_11), ('14', stray_14), ('17', stray_17)]
color_of = dict(zip(cluster_names, cluster_colors))
EDGE = '#CCCCCC'
MARK = 22
LW = 0.7

fig = plt.figure(figsize=(12.5, 10), dpi=200)
ax = fig.add_axes([335/2500, 1-1747/2000, (2044-335)/2500, (1747-40)/2000])
for name, pts in dense:
    xs, ys = zip(*pts)
    ax.scatter(xs, ys, s=48, c=EDGE, linewidths=0, zorder=1)
for name, pts in dense:
    xs, ys = zip(*pts)
    ax.scatter(xs, ys, s=30, c=color_of[name], linewidths=0, zorder=2)
for name, pts in dense:
    xs, ys = zip(*pts)
    ax.scatter(xs, ys, s=MARK, c=color_of[name], edgecolors=EDGE, linewidths=LW, zorder=3)
for name, pts in sparse:
    xs, ys = zip(*pts)
    ax.scatter(xs, ys, s=MARK, c=color_of[name], edgecolors=EDGE, linewidths=LW, zorder=4)

ax.set_xlim(-11.57, 14.49)
ax.set_ylim(-16.04, 10.39)
ax.set_xticks([-10, -5, 0, 5, 10])
ax.set_yticks([-15, -10, -5, 0, 5, 10])
ax.set_xticklabels(['-10', '-5', '0', '5', '10'])
ax.set_yticklabels(['-15', '-10', '-5', '0', '5', '10'])
ax.tick_params(labelsize=30, colors='#4D4D4D', length=3.6, width=1.9)
ax.tick_params(color='black')
ax.tick_params(axis='x', pad=10)
ax.tick_params(axis='y', pad=7.5)
for side in ('top', 'right'):
    ax.spines[side].set_visible(False)
for side in ('left', 'bottom'):
    ax.spines[side].set_linewidth(2.1)
fig.text(1188/2500, 1-1944/2000, 'UMAP 1', fontsize=30, ha='center', va='center')
fig.text(132/2500, 1-893/2000, 'UMAP 2', fontsize=30, rotation=90, ha='center', va='center')

fig.text(2160/2500, 1-208/2000, 'Cluster', fontsize=25, ha='left', va='center')
for i, (name, col) in enumerate(zip(cluster_names, cluster_colors)):
    py = 308 + i*75.05
    fig.add_artist(Line2D([2190/2500], [1-py/2000], transform=fig.transFigure, marker='o', markersize=16,
                          markerfacecolor=col, markeredgecolor=EDGE, markeredgewidth=0.9, linestyle='none'))
    fig.text(2256/2500, 1-(py+2)/2000, name, fontsize=23, ha='left', va='center')

fig.savefig('out.png', dpi=200)
